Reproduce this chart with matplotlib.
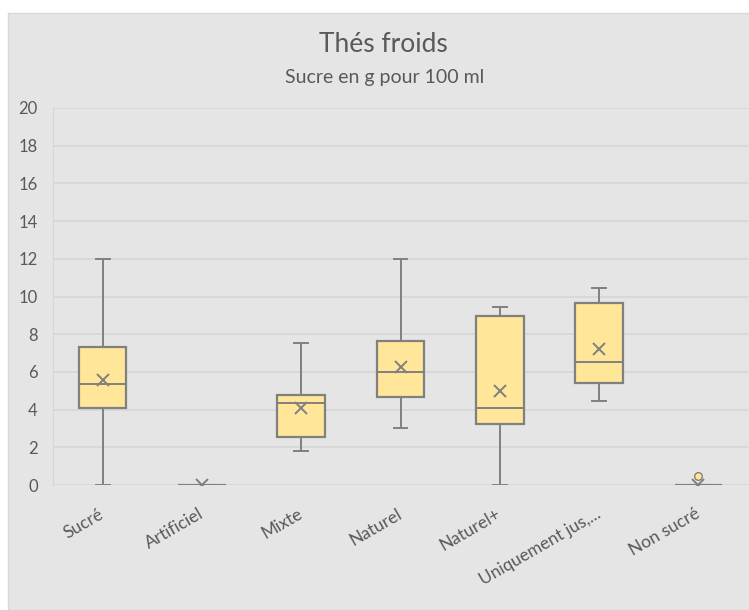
import matplotlib.pyplot as plt
from matplotlib.patches import Rectangle

plt.rcParams['font.family'] = ['Lato', 'DejaVu Sans']

# Sucre en g pour 100 ml, par catégorie
categories = ['Sucré', 'Artificiel', 'Mixte', 'Naturel', 'Naturel+',
              'Uniquement jus,...', 'Non sucré']
whislo = [0.0, 0.0, 1.8, 3.0, 0.0, 4.45, 0.0]
q1 = [4.1, 0.0, 2.55, 4.67, 3.24, 5.43, 0.0]
med = [5.34, 0.0, 4.35, 6.01, 4.1, 6.54, 0.0]
q3 = [7.32, 0.0, 4.79, 7.66, 8.98, 9.67, 0.0]
whishi = [12.0, 0.0, 7.55, 12.0, 9.44, 10.43, 0.0]
means = [5.55, 0.0, 4.1, 6.24, 4.99, 7.21, 0.0]
fliers = [[], [], [], [], [], [], [0.5]]

text_col = '#595959'
grid_col = '#d6d6d6'
bg_col = '#e5e5e5'
edge_col = '#808080'
fill_col = '#ffe699'

fig = plt.figure(figsize=(7.49, 6.10), dpi=100)
fig.patch.set_facecolor('white')
fig.patches.append(Rectangle((8/749, 0), 1, 1 - 13/610, transform=fig.transFigure,
                             facecolor=bg_col, edgecolor='#d9d9d9', lw=1, zorder=-10))

ax = fig.add_axes([53/749, 1 - 485/610, 695/749, (485 - 108)/610])
ax.set_facecolor(bg_col)

stats = []
for i in range(len(categories)):
    stats.append(dict(whislo=whislo[i], q1=q1[i], med=med[i], q3=q3[i],
                      whishi=whishi[i], mean=means[i], fliers=fliers[i]))

ax.bxp(stats, positions=range(len(categories)), widths=0.48, capwidths=0.14,
       showmeans=True, patch_artist=True, manage_ticks=False,
       boxprops=dict(facecolor=fill_col, edgecolor=edge_col, lw=1.6),
       medianprops=dict(color=edge_col, lw=1.4),
       whiskerprops=dict(color=edge_col, lw=1.4),
       capprops=dict(color=edge_col, lw=1.4),
       meanprops=dict(marker='x', markeredgecolor=edge_col, markersize=9,
                      markeredgewidth=1.4),
       flierprops=dict(marker='o', markerfacecolor=fill_col, markeredgecolor=edge_col,
                       markersize=5.5, markeredgewidth=1))

ax.set_xlim(-0.5, len(categories) - 0.5)
ax.set_ylim(0, 20)
ax.set_yticks(range(0, 21, 2))
ax.set_xticks(range(len(categories)))
ax.set_xticklabels(categories, rotation=30, ha='right', va='center',
                   rotation_mode='anchor', fontsize=12.5, color=text_col)
ax.tick_params(axis='y', length=0, pad=11, labelsize=12, labelcolor=text_col)
ax.tick_params(axis='x', length=0, pad=20)
ax.yaxis.grid(True, color=grid_col, lw=1.2)
ax.set_axisbelow(True)
for s in ['top', 'right', 'bottom']:
    ax.spines[s].set_visible(False)
ax.spines['left'].set_color(grid_col)

fig.text(383/749, 1 - 44/610, 'Thés froids', ha='center', va='center',
         fontsize=19, color=text_col)
fig.text(385/749, 1 - 77/610, 'Sucre en g pour 100 ml', ha='center', va='center',
         fontsize=14, color=text_col)

fig.savefig('out.png', dpi=100)
